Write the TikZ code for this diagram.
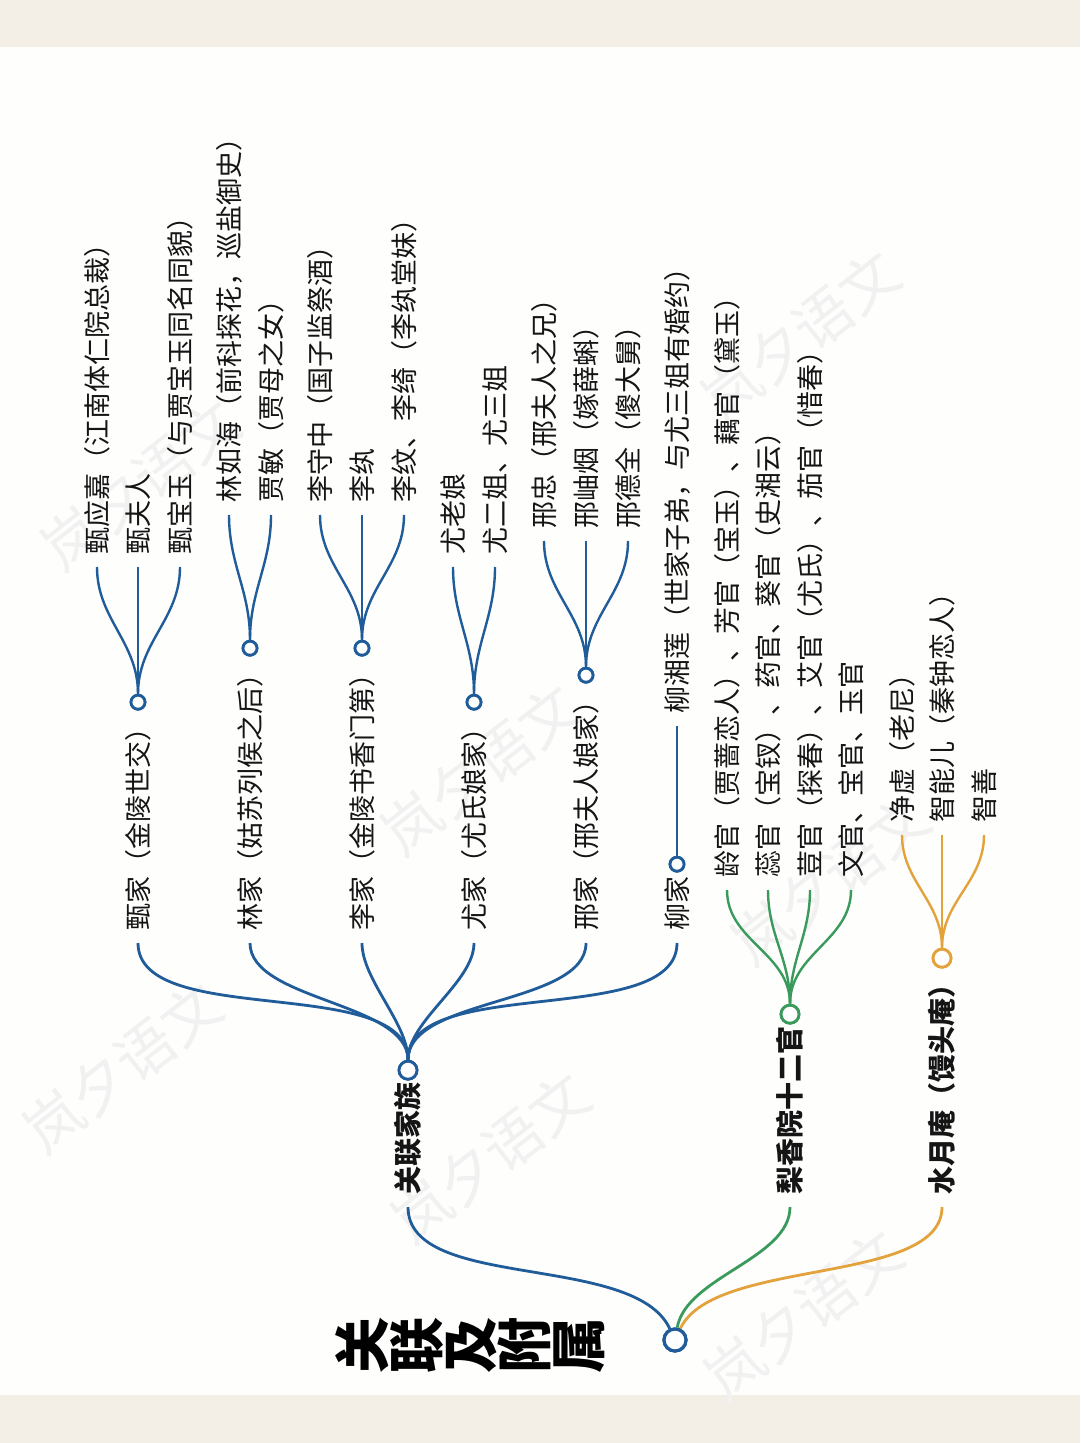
\documentclass[tikz,border=0pt]{standalone}
\usepackage{fontspec}
\setmainfont{Noto Sans CJK SC}
\usetikzlibrary{calc}
\definecolor{paper}{HTML}{F3EEE6}
\definecolor{card}{HTML}{FEFEFD}
\definecolor{blueL}{HTML}{1F5C99}
\definecolor{greenL}{HTML}{3A9A5C}
\definecolor{orangeL}{HTML}{E3A23B}
\definecolor{inkL}{HTML}{151515}
\definecolor{wmark}{HTML}{F1F1F1}
\begin{document}
\begin{tikzpicture}[x=0.5pt,y=0.5pt,
  txt/.style={rotate=90, anchor=west, inner xsep=6pt, inner ysep=2pt, text=inkL,
    font=\fontsize{13.5}{16}\selectfont},
  lone/.style={txt, font=\bfseries\fontsize{14}{16}\selectfont},
  dotc/.style={circle, draw=#1, fill=white, line width=1.4pt, inner sep=0pt, minimum size=7pt},
  dotm/.style={dotc=#1, minimum size=9pt},
  dotr/.style={dotc=#1, minimum size=11pt, line width=1.6pt},
  link/.style={draw=#1, line width=1.4pt},
  leaf/.style={draw=#1, line width=1.2pt},
  wm/.style={rotate=38, text=wmark, font=\fontsize{29}{30}\selectfont, inner sep=0pt}]
\useasboundingbox (0,0) rectangle (1080,-1443);
% background
\fill[card] (0,0) rectangle (1080,-1443);
\fill[paper] (0,0) rectangle (1080,-47);
\fill[paper] (0,-1395) rectangle (1080,-1443);
% watermarks
\node[wm] (wm1) at (122,-1068) {岚夕语文};
\node[wm] (wm2) at (490,-1158) {岚夕语文};
\node[wm] (wm3) at (480,-770) {岚夕语文};
\node[wm] (wm4) at (800,-336) {岚夕语文};
\node[wm] (wm5) at (830,-880) {岚夕语文};
\node[wm] (wm6) at (803,-1315) {岚夕语文};
\node[wm] (wm7) at (140,-485) {岚夕语文};

% title
\node[rotate=90, align=center, inner sep=0pt, text=black,
  font=\bfseries\fontsize{28}{27}\selectfont] (title) at (470,-1345) {关\\联\\及\\附\\属};

% root
\node[dotr=blueL] (root) at (675,-1340) {};

% level 1
\node[lone] (A) at (408,-1207) {关联家族};
\node[lone] (B) at (790,-1207) {梨香院十二官};
\node[lone] (C) at (942,-1207) {水月庵（馒头庵）};
\node[dotm=blueL] (cA) at (A.east) {};
\node[dotm=greenL] (cB) at (B.east) {};
\node[dotm=orangeL] (cC) at (C.east) {};
\draw[link=blueL] (root) to[out=115,in=-90,looseness=0.75] (A.west);
\draw[link=greenL] (root) to[out=80,in=-90,looseness=0.8] (B.west);
\draw[link=orangeL] (root) to[out=65,in=-90,looseness=0.7] (C.west);

% level 2 under 关联家族
\node[txt] (A1) at (138,-943) {甄家（金陵世交）};
\node[txt] (A2) at (250,-943) {林家（姑苏列侯之后）};
\node[txt] (A3) at (362,-943) {李家（金陵书香门第）};
\node[txt] (A4) at (474,-943) {尤家（尤氏娘家）};
\node[txt] (A5) at (586,-943) {邢家（邢夫人娘家）};
\node[txt] (A6) at (677,-943) {柳家};
\foreach \i in {1,...,6}{
  \draw[link=blueL] (cA) to[out=90,in=-90,looseness=0.75] (A\i.west);
  \node[dotc=blueL] (dA\i) at (A\i.east) {};
}

% leaves: 甄家
\node[txt] (A11) at (97,-567) {甄应嘉（江南体仁院总裁）};
\node[txt] (A12) at (138,-567) {甄夫人};
\node[txt] (A13) at (180,-567) {甄宝玉（与贾宝玉同名同貌）};
% 林家
\node[txt] (A21) at (229,-515) {林如海（前科探花，巡盐御史）};
\node[txt] (A22) at (271,-515) {贾敏（贾母之女）};
% 李家
\node[txt] (A31) at (320,-515) {李守中（国子监祭酒）};
\node[txt] (A32) at (362,-515) {李纨};
\node[txt] (A33) at (404,-515) {李纹、李绮（李纨堂妹）};
% 尤家
\node[txt] (A41) at (453,-567) {尤老娘};
\node[txt] (A42) at (495,-567) {尤二姐、尤三姐};
% 邢家
\node[txt] (A51) at (544,-541) {邢忠（邢夫人之兄）};
\node[txt] (A52) at (586,-541) {邢岫烟（嫁薛蝌）};
\node[txt] (A53) at (628,-541) {邢德全（傻大舅）};
% 柳家
\node[txt] (A61) at (677,-726) {柳湘莲（世家子弟，与尤三姐有婚约）};

\foreach \p/\c in {1/1,1/2,1/3,2/1,2/2,3/1,3/2,3/3,4/1,4/2,5/1,5/2,5/3,6/1}{
  \draw[leaf=blueL] (dA\p) to[out=90,in=-90] (A\p\c.west);
}

% 梨香院十二官 leaves
\node[txt] (B1) at (727,-890) {龄官（贾蔷恋人）、芳官（宝玉）、藕官（黛玉）};
\node[txt] (B2) at (768,-890) {蕊官（宝钗）、药官、葵官（史湘云）};
\node[txt] (B3) at (810,-890) {荳官（探春）、艾官（尤氏）、茄官（惜春）};
\node[txt] (B4) at (851,-890) {文官、宝官、玉官};
\foreach \i in {1,...,4}{
  \draw[leaf=greenL] (cB) to[out=90,in=-90] (B\i.west);
}

% 水月庵 leaves
\node[txt] (C1) at (902,-835) {净虚（老尼）};
\node[txt] (C2) at (942,-835) {智能儿（秦钟恋人）};
\node[txt] (C3) at (984,-835) {智善};
\foreach \i in {1,...,3}{
  \draw[leaf=orangeL] (cC) to[out=90,in=-90] (C\i.west);
}

% redraw circles on top of links
\node[dotr=blueL] at (root) {};
\node[dotm=blueL] at (cA) {};
\node[dotm=greenL] at (cB) {};
\node[dotm=orangeL] at (cC) {};
\foreach \i in {1,...,6}{ \node[dotc=blueL] at (dA\i) {}; }
\end{tikzpicture}
\end{document}
